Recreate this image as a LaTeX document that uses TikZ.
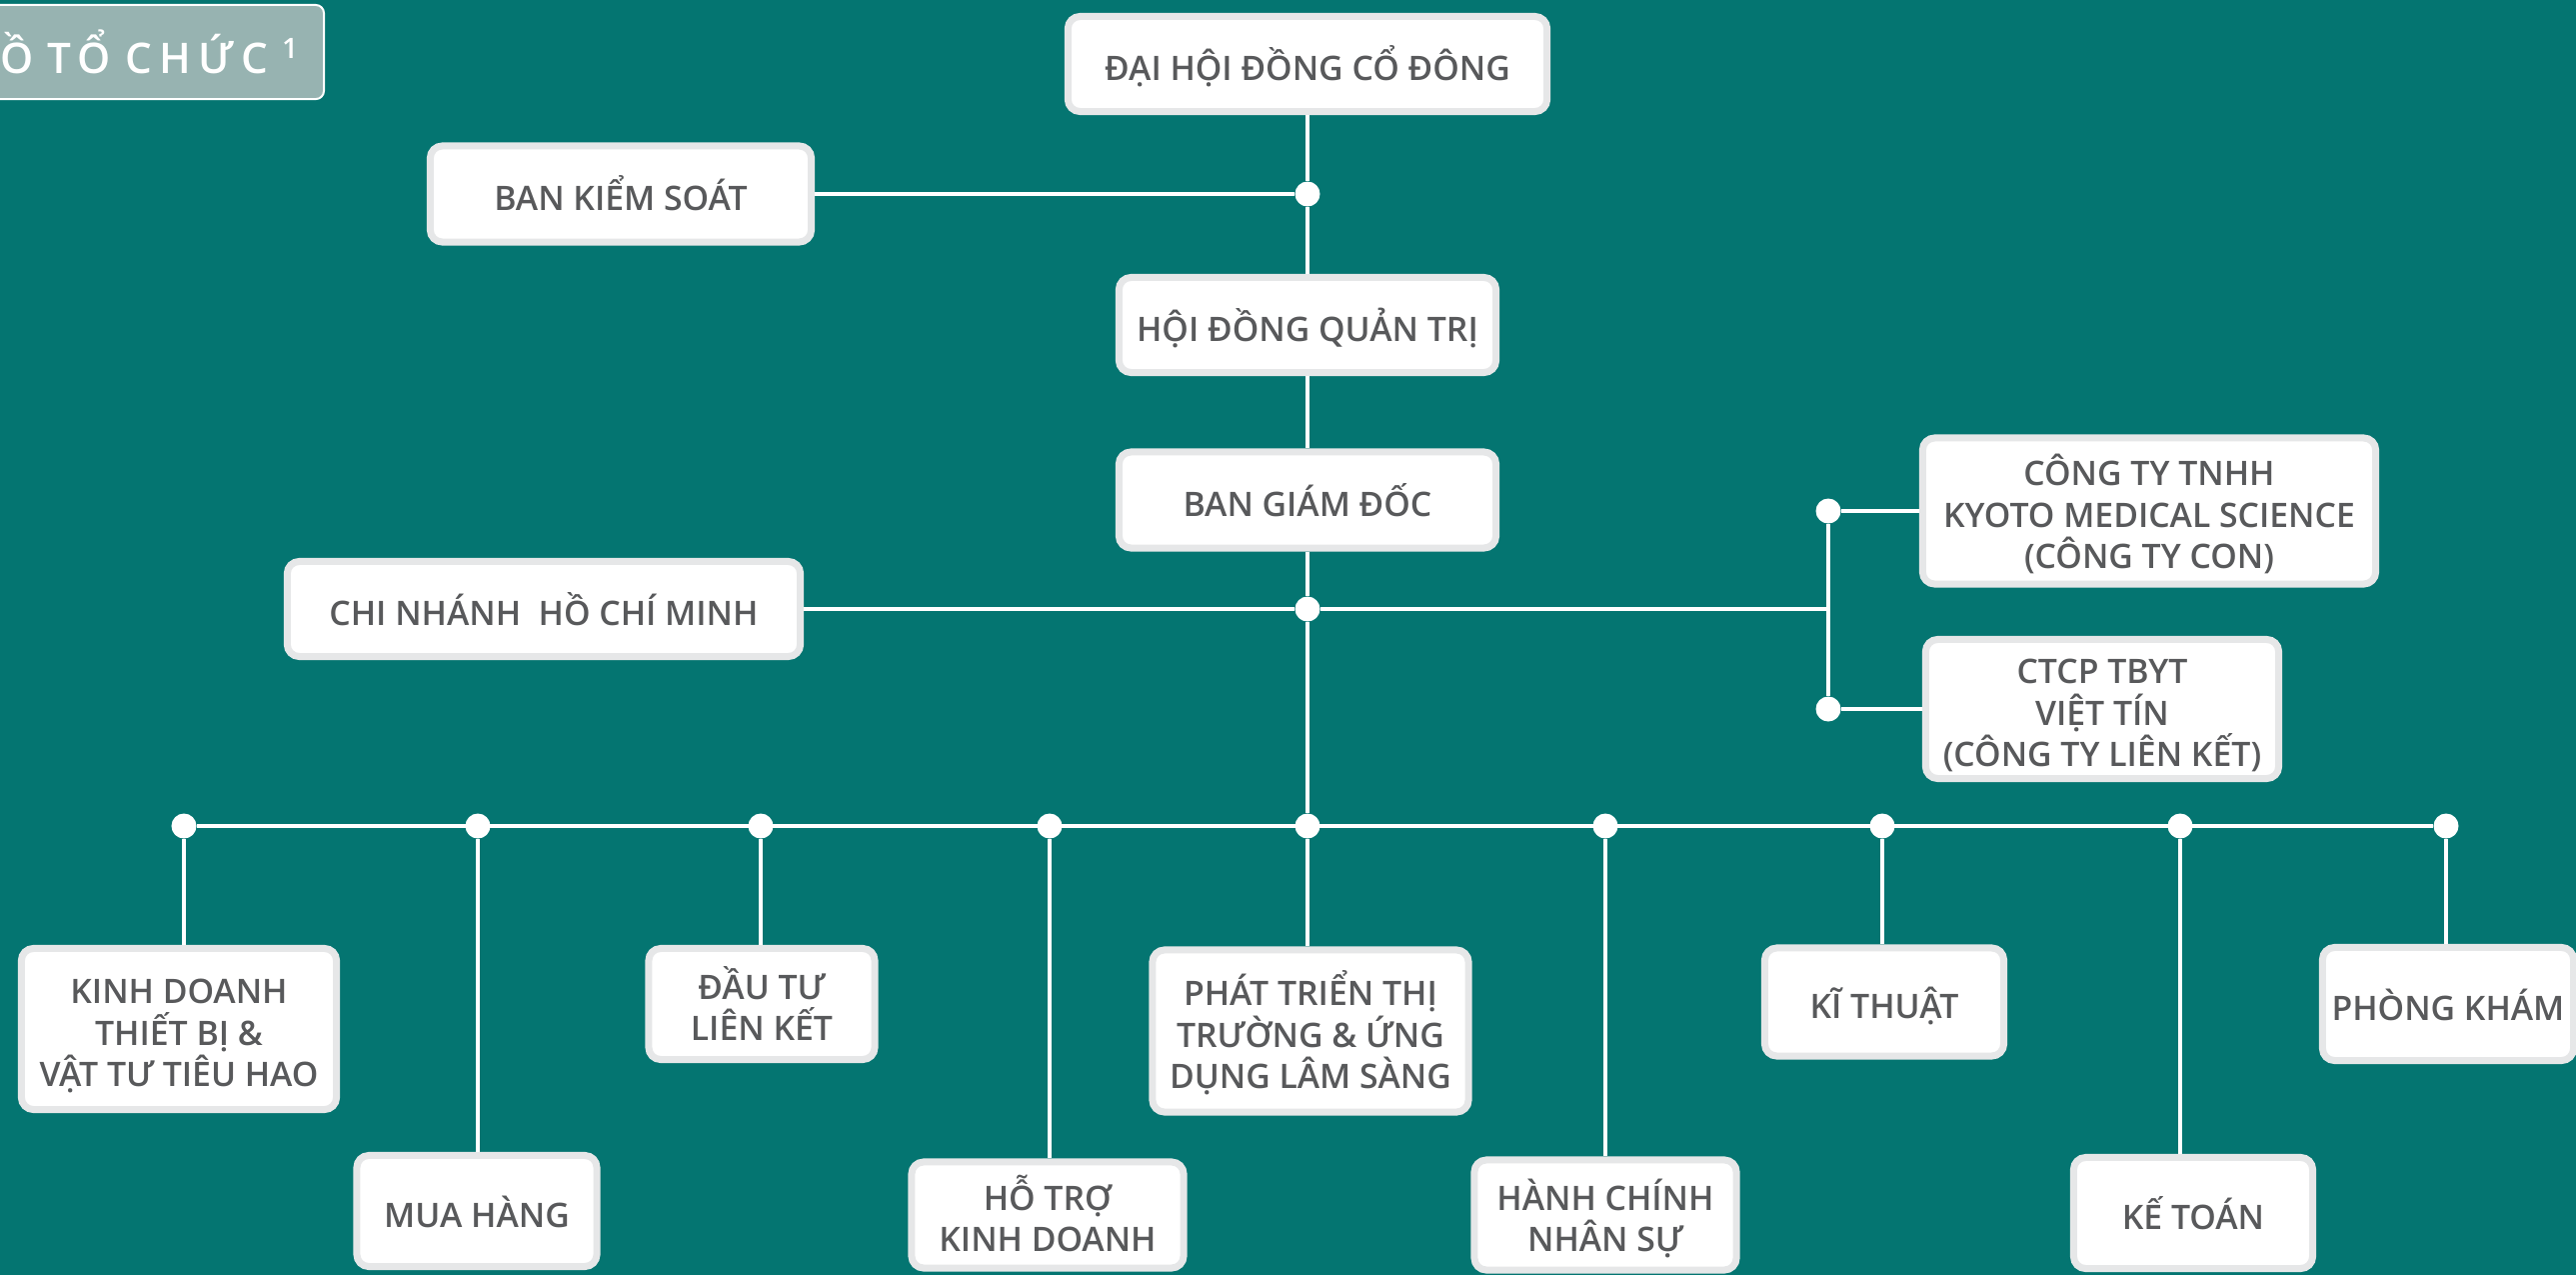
\documentclass[tikz,border=0pt]{standalone}
\usepackage{fontspec}
\IfFontExistsTF{Open Sans SemiBold}{\setmainfont{Open Sans}[BoldFont={Open Sans SemiBold}]}{\IfFontExistsTF{Open Sans Semibold}{\setmainfont{Open Sans}[BoldFont={Open Sans Semibold}]}{\setmainfont{Open Sans}}}
\definecolor{bgteal}{RGB}{4,117,113}
\definecolor{boxgray}{RGB}{230,231,232}
\definecolor{txtgray}{RGB}{88,89,91}
\definecolor{titlefill}{RGB}{151,179,177}
\newcommand{\boxtop}{\rule{0pt}{1.25em}}

\begin{document}
\begin{tikzpicture}[x=0.01cm,y=-0.01cm,
  box/.style={draw=boxgray, line width=0.07cm, fill=white, rounded corners=0.12cm,
    align=center, text=txtgray, inner sep=0pt,
    font=\bfseries\fontsize{9.6}{11.9}\selectfont,
    execute at begin node={\boxtop},
    execute at end node={\rule[-0.3em]{0pt}{0pt}}},
  titlebox/.style={draw=white, line width=0.02cm, fill=titlefill, rounded corners=0.08cm,
    text=white, inner sep=0pt,
    font=\bfseries\fontsize{12}{14}\selectfont\addfontfeatures{LetterSpace=18}},
  link/.style={draw=white, line width=0.04cm},
  dot/.style={circle, fill=white, inner sep=0pt, minimum size=0.25cm}]
\useasboundingbox (0,0) rectangle (2577,1275);
\fill[bgteal] (0,0) rectangle (2577,1275);

\begin{scope}
\clip (0,0) rectangle (2577,1275);
\node[titlebox, anchor=east, minimum height=0.94cm, text width=5cm, align=right] (title) at (325,52) {SƠ ĐỒ TỔ CHỨC \textsuperscript{1}\hspace*{0.24cm}};
\end{scope}

\node[box, minimum width=4.79cm, minimum height=0.95cm] (dhdcd) at (1308,64) {ĐẠI HỘI ĐỒNG CỔ ĐÔNG};
\node[box, minimum width=3.81cm, minimum height=0.96cm] (bks) at (621,194) {BAN KIỂM SOÁT};
\node[box, minimum width=3.77cm, minimum height=0.95cm] (hdqt) at (1308,325) {HỘI ĐỒNG QUẢN TRỊ};
\node[box, minimum width=3.77cm, minimum height=0.96cm] (bgd) at (1308,500) {BAN GIÁM ĐỐC};
\node[box, minimum width=5.13cm, minimum height=0.95cm] (cn) at (544,609) {CHI NHÁNH\ \ HỒ CHÍ MINH};
\node[box, minimum width=4.53cm, minimum height=1.46cm] (ctcon) at (2150,511) {\boxtop CÔNG TY TNHH\\KYOTO MEDICAL SCIENCE\\(CÔNG TY CON)};
\node[box, minimum width=3.53cm, minimum height=1.39cm] (ctlk) at (2103,709) {\boxtop CTCP TBYT\\VIỆT TÍN\\(CÔNG TY LIÊN KẾT)};

\node[box, minimum width=3.15cm, minimum height=1.61cm] (kd) at (179,1029) {\boxtop KINH DOANH\\THIẾT BỊ \&\\VẬT TƯ TIÊU HAO};
\node[box, minimum width=2.40cm, minimum height=1.11cm] (mh) at (477,1211) {MUA HÀNG};
\node[box, minimum width=2.26cm, minimum height=1.11cm] (dt) at (762,1004) {\boxtop ĐẦU TƯ\\LIÊN KẾT};
\node[box, minimum width=2.72cm, minimum height=1.06cm] (ht) at (1048,1215) {\boxtop HỖ TRỢ\\KINH DOANH};
\node[box, minimum width=3.16cm, minimum height=1.62cm] (pt) at (1311,1031) {\boxtop PHÁT TRIỂN THỊ\\TRƯỜNG \& ỨNG\\DỤNG LÂM SÀNG};
\node[box, minimum width=2.62cm, minimum height=1.10cm] (hc) at (1606,1215) {\boxtop HÀNH CHÍNH\\NHÂN SỰ};
\node[box, minimum width=2.39cm, minimum height=1.08cm] (kt) at (1885,1002) {KĨ THUẬT};
\node[box, minimum width=2.39cm, minimum height=1.11cm] (ktoan) at (2194,1213) {KẾ TOÁN};
\node[box, minimum width=2.51cm, minimum height=1.13cm] (pk) at (2449,1004) {PHÒNG KHÁM};

\node[dot] (d1) at (1308,194) {};
\node[dot] (d2) at (1308,609) {};
\node[dot] (b1) at (1829,511) {};
\node[dot] (b2) at (1829,709) {};
\node[dot] (c1) at (184,826) {};
\node[dot] (c2) at (478,826) {};
\node[dot] (c3) at (761,826) {};
\node[dot] (c4) at (1050,826) {};
\node[dot] (c5) at (1308,826) {};
\node[dot] (c6) at (1606,826) {};
\node[dot] (c7) at (1883,826) {};
\node[dot] (c8) at (2181,826) {};
\node[dot] (c9) at (2447,826) {};

\draw[link] (dhdcd) -- (d1) -- (hdqt);
\draw[link] (bks) -- (d1);
\draw[link] (hdqt) -- (bgd);
\draw[link] (bgd) -- (d2) -- (c5);
\draw[link] (cn) -- (d2) -- (d2 -| b1);
\draw[link] (b1) -- (b2);
\draw[link] (b1) -- (ctcon);
\draw[link] (b2) -- (ctlk);
\draw[link] (c1) -- (c9);
\draw[link] (c1) -- (c1 |- kd.north);
\draw[link] (c2) -- (c2 |- mh.north);
\draw[link] (c3) -- (c3 |- dt.north);
\draw[link] (c4) -- (c4 |- ht.north);
\draw[link] (c5) -- (c5 |- pt.north);
\draw[link] (c6) -- (c6 |- hc.north);
\draw[link] (c7) -- (c7 |- kt.north);
\draw[link] (c8) -- (c8 |- ktoan.north);
\draw[link] (c9) -- (c9 |- pk.north);
\end{tikzpicture}
\end{document}
